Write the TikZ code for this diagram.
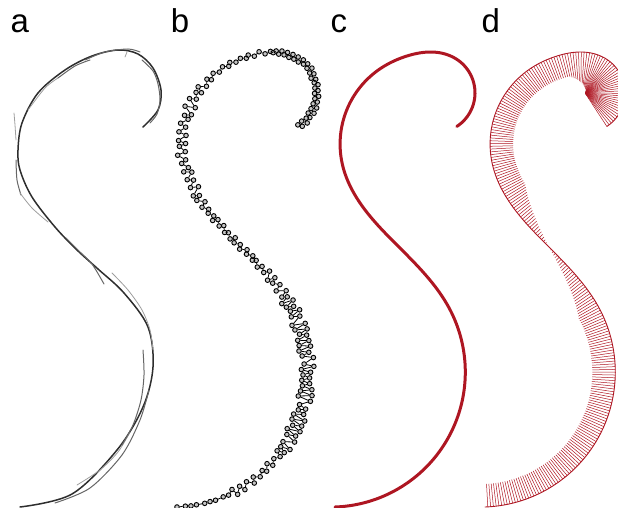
\documentclass[tikz,border=0pt]{standalone}
\usepackage{fontspec}
\setmainfont{Liberation Sans}
\newcount\bcnt
\definecolor{cred}{RGB}{174,22,34}
\begin{document}
\begin{tikzpicture}[x=1pt,y=-1pt,
  declare function={kap(\s)=-0.4244+0.005305*max(0,\s-273.4)-0.005305*max(0,\s-353.4)+0.0063*max(0,\s-354.1)-0.0063*max(0,\s-454.1)-0.003714*max(0,\s-560)+0.023714*max(0,\s-595)-0.0085*max(0,\s-630)-0.0115*max(0,\s-650);},
  cline/.style={draw=cred, line width=3, line cap=round, line join=round},
  dline/.style={draw=cred, line width=0.9, line cap=round, line join=round},
  comb/.style={draw=cred, line width=0.5},
  bline/.style={draw=black, line width=0.8},
  bdot/.style={circle, draw=black, line width=0.9, fill=gray!45, inner sep=0, minimum size=4.6},
  sk1/.style={draw=black!82, line width=1.5, line cap=round},
  sk2/.style={draw=black!60, line width=1.0, line cap=round},
  sk3/.style={draw=black!38, line width=0.8, line cap=round},
  lab/.style={anchor=base west, inner sep=0, font=\fontsize{33}{33}\selectfont}]
\useasboundingbox (0,0) rectangle (618,508);
\clip (0,0) rectangle (618,508);
% labels
\node[lab] (la) at (10.5,32.7) {a};
\node[lab] (lb) at (170.7,32.7) {b};
\node[lab] (lc) at (330.5,32.7) {c};
\node[lab] (ld) at (481.5,32.7) {d};
% panel a : sketch strokes
\draw[sk1] plot[smooth,tension=0.55] coordinates {(20,507) (72,494) (117,450) (143,407) (153,367) (148,327) (124,293) (98,269) (77,250) (55,227) (32,197) (20,170) (18,150) (22,123) (38,93) (65,70) (92,56) (118,50) (138,54) (153,68) (161,90) (158,110) (143,127)};
\draw[sk3] plot[smooth] coordinates {(77,485) (100,470) (118,452) (130,432)};
\draw[sk2] plot[smooth] coordinates {(143,350) (144,375) (141,400) (133,425) (122,445)};
\draw[sk2] plot[smooth] coordinates {(55,503) (90,488) (122,455) (140,420) (149,390)};
\draw[sk3] plot[smooth] coordinates {(112,273) (128,290) (142,310) (150,330) (153,350)};
\draw[sk2] plot[smooth] coordinates {(66,238) (80,252) (92,264) (104,284)};
\draw[sk3] plot[smooth] coordinates {(14,113) (15,125) (16,140)};
\draw[sk2] plot[smooth] coordinates {(16,160) (17,180) (21,195)};
\draw[sk3] plot[smooth] coordinates {(20,193) (32,208) (48,222)};
\draw[sk3] plot[smooth] coordinates {(28,110) (45,88) (58,78)};
\draw[sk2] plot[smooth] coordinates {(58,78) (75,66) (90,60)};
\draw[sk2] plot[smooth] coordinates {(85,60) (105,52) (128,49) (140,52)};
\draw[sk3] plot[smooth] coordinates {(125,57) (127,52)};
\draw[sk2] plot[smooth] coordinates {(142,60) (153,71) (158,84) (160,100) (157,114) (150,123)};
% integrate the curve of panel c (curvature against arc length)
\pgfmathsetseed{7}
\xdef\Xc{335}\xdef\Yc{507}\xdef\Th{-2}\xdef\Bd{0}
\global\bcnt=1
\coordinate (cp0) at (335,507);
\coordinate (bp1) at (177,507);
\foreach \n in {1,...,259} {
  \pgfmathsetmacro\sm{(\n-0.5)*2.8}
  \pgfmathsetmacro\km{kap(\sm)}
  \pgfmathsetmacro\thm{\Th+\km*1.4}
  \pgfmathsetmacro\nx{\Xc+2.8*cos(\thm)}
  \pgfmathsetmacro\ny{\Yc+2.8*sin(\thm)}
  \pgfmathsetmacro\nth{\Th+\km*2.8}
  \xdef\Xc{\nx}\xdef\Yc{\ny}\xdef\Th{\nth}
  \coordinate (cp\n) at (\nx,\ny);
  % curvature comb (panel d)
  \pgfmathsetmacro\kk{kap(\n*2.8)}
  \pgfmathsetmacro\Ln{ifthenelse(\kk<0,-1,1)*(23*min(abs(\kk)/0.42,1)+20.6*max(0,abs(\kk)-0.63))}
  \draw[comb] ([xshift=150pt]cp\n) -- ++({-sin(\nth)*(\Ln)},{cos(\nth)*(\Ln)});
  % noisy samples (panel b)
  \pgfmathsetmacro\spc{ifthenelse(\sm<55,6.5,ifthenelse(\sm<120,4.5,ifthenelse(\sm<290,3,ifthenelse(\sm<540,4,ifthenelse(\sm<620,5,2.4)))))}
  \pgfmathsetmacro\amp{ifthenelse(\sm<55,0.3,ifthenelse(\sm<120,4.5,ifthenelse(\sm<290,7,ifthenelse(\sm<330,4,ifthenelse(\sm<400,3,ifthenelse(\sm<540,5.5,ifthenelse(\sm<620,2,3)))))))}
  \pgfmathsetmacro\nb{\Bd+2.8}
  \ifdim\nb pt<\spc pt
    \xdef\Bd{\nb}
  \else
    \pgfmathsetmacro\rem{\nb-\spc}
    \xdef\Bd{\rem}
    \global\advance\bcnt by 1
    \pgfmathtruncatemacro\jj{\the\bcnt}
    \pgfmathsetmacro\Of{\amp*(0.3+0.7*rnd)*(2*mod(\jj,2)-1)}
    \coordinate (bp\jj) at ({\nx-sin(\nth)*(\Of)-158},{\ny+cos(\nth)*(\Of)});
  \fi
}
% panel c
\draw[cline] (cp0) \foreach \n in {1,...,259} { -- (cp\n) };
% panel d
\draw[dline] ([xshift=150pt]cp0) \foreach \n in {1,...,259} { -- ([xshift=150pt]cp\n) };
% panel b
\pgfmathtruncatemacro\bN{\the\bcnt}
\pgfmathtruncatemacro\bNm{\bN-1}
\foreach \j in {1,...,\bN} { \node[bdot] (bd\j) at (bp\j) {}; }
\foreach \j in {1,...,\bNm} {
  \pgfmathtruncatemacro\jn{\j+1}
  \draw[bline] (bd\j) -- (bd\jn);
}
\end{tikzpicture}
\end{document}
